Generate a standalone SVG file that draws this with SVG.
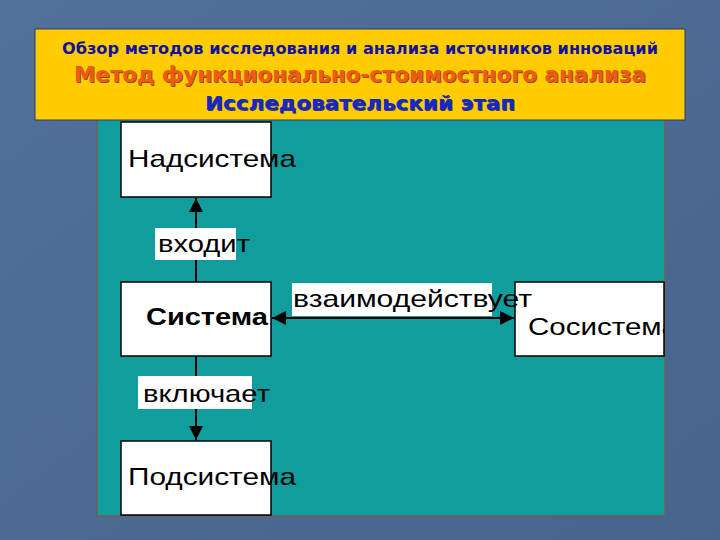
<svg xmlns="http://www.w3.org/2000/svg" width="720" height="540" viewBox="0 0 720 540">
<style>
.box{fill:#fff;stroke:#000;stroke-width:1.5}
.lbl{fill:#fff}
.t{font-family:"Liberation Sans",Arial,sans-serif;font-size:24px;fill:#000}
.h{font-family:"DejaVu Sans Condensed","DejaVu Sans",Verdana,sans-serif;font-weight:bold;font-stretch:condensed}
.conn{stroke:#000;stroke-width:2;fill:none}
</style>
<defs>
<linearGradient id="bg" x1="0" y1="0" x2="1" y2="1">
<stop offset="0" stop-color="#52719a"/>
<stop offset="1" stop-color="#46648c"/>
</linearGradient>
<marker id="av" viewBox="0 0 10 10" refX="10" refY="5" markerWidth="22" markerHeight="14" orient="auto-start-reverse" markerUnits="userSpaceOnUse">
<path d="M0,0 L10,5 L0,10 z" fill="#000"/>
</marker>
<clipPath id="clip"><rect x="0" y="0" width="664" height="540"/></clipPath>
</defs>
<rect width="720" height="540" fill="url(#bg)"/>
<g id="panel">
<rect x="97" y="118" width="568" height="398" fill="#119c9e" stroke="#7a5a5a" stroke-width="1.5"/>
</g>
<g id="header">
<rect x="35" y="29" width="650" height="91" fill="#ffcc00" stroke="#2a3a6a" stroke-width="1"/>
<text class="h" x="360" y="54" text-anchor="middle" font-size="16.5" fill="#12129a" textLength="596" lengthAdjust="spacingAndGlyphs">Обзор методов исследования и анализа источников инноваций</text>
<text class="h" x="361" y="83" text-anchor="middle" font-size="21" fill="#8a4a10" textLength="572" lengthAdjust="spacingAndGlyphs">Метод функционально-стоимостного анализа</text>
<text class="h" x="360" y="82" text-anchor="middle" font-size="21" fill="#f05a16" textLength="572" lengthAdjust="spacingAndGlyphs">Метод функционально-стоимостного анализа</text>
<text class="h" x="361" y="111" text-anchor="middle" font-size="20" fill="#3a3a60" textLength="310" lengthAdjust="spacingAndGlyphs">Исследовательский этап</text>
<text class="h" x="360" y="110" text-anchor="middle" font-size="20" fill="#1428cc" textLength="310" lengthAdjust="spacingAndGlyphs">Исследовательский этап</text>
</g>
<g id="nadsistema">
<rect class="box" x="121" y="122" width="150" height="75"/>
<text class="t" x="128" y="167" textLength="168" lengthAdjust="spacingAndGlyphs">Надсистема</text>
</g>
<g id="sistema">
<rect class="box" x="121" y="282" width="150" height="74"/>
<text class="t" x="146" y="325" font-weight="bold" textLength="122" lengthAdjust="spacingAndGlyphs">Система</text>
</g>
<g id="sosistema">
<rect class="box" x="515" y="282" width="149" height="74"/>
<text class="t" x="528" y="335" clip-path="url(#clip)" textLength="150" lengthAdjust="spacingAndGlyphs">Сосистема</text>
</g>
<g id="podsistema">
<rect class="box" x="121" y="441" width="150" height="74"/>
<text class="t" x="128" y="485" textLength="168" lengthAdjust="spacingAndGlyphs">Подсистема</text>
</g>
<g id="connectors">
<line class="conn" x1="196" y1="282" x2="196" y2="198" marker-end="url(#av)"/>
<line class="conn" x1="196" y1="356" x2="196" y2="440" marker-end="url(#av)"/>
<line class="conn" x1="272" y1="318" x2="514" y2="318" marker-start="url(#av)" marker-end="url(#av)"/>
<rect class="lbl" x="155" y="228" width="81" height="32"/>
<text class="t" x="158" y="252" textLength="92" lengthAdjust="spacingAndGlyphs">входит</text>
<rect class="lbl" x="138" y="376" width="114" height="33"/>
<text class="t" x="143" y="402" textLength="127" lengthAdjust="spacingAndGlyphs">включает</text>
<rect class="lbl" x="292" y="283" width="200" height="33"/>
<text class="t" x="293" y="307" textLength="239" lengthAdjust="spacingAndGlyphs">взаимодействует</text>
</g>
</svg>
